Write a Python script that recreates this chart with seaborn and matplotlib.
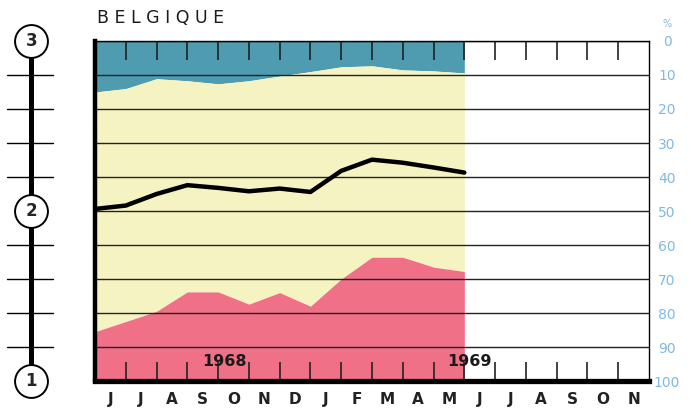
import numpy as np
import pandas as pd
import matplotlib
matplotlib.use("Agg")
import matplotlib.pyplot as plt
import seaborn as sns

# month labels along the bottom (June 1968 -> November 1969)
months = ["J", "J", "A", "S", "O", "N", "D", "J", "F", "M", "A", "M",
          "J", "J", "A", "S", "O", "N"]

# month boundaries with data (June 1968 .. end of May 1969)
pos = list(range(13))
# lower edge of the blue band, % from top
blue_edge = [15.0, 14.0, 11.1, 11.7, 12.6, 11.7, 10.3, 9.0, 7.6, 7.3, 8.5, 8.8, 9.4]
# upper edge of the pink band, % from top
pink_edge = [85.5, 82.5, 79.5, 73.8, 73.8, 77.4, 74.0, 78.0, 70.0, 63.6, 63.6, 66.5, 67.8]
# the black curve
curve = [49.4, 48.4, 45.0, 42.4, 43.2, 44.2, 43.4, 44.4, 38.2, 34.9, 35.8, 37.2, 38.7]

pct_ticks = [0, 10, 20, 30, 40, 50, 60, 70, 80, 90, 100]
scale_marks = [0, 50, 100]
scale_labels = ["3", "2", "1"]

df = pd.DataFrame({"pos": pos, "blue": blue_edge, "pink": pink_edge, "curve": curve})

sns.set_style("white")
plt.rcParams["font.family"] = ["DejaVu Sans"]

BLUE = "#4f9bb0"
YELLOW = "#f6f3c2"
PINK = "#f07088"
LABEL_BLUE = "#7fb9e2"

fig = plt.figure(figsize=(6.91, 4.15), dpi=100)
ax = fig.add_axes([95 / 691, 1 - 381 / 415, (649 - 95) / 691, (381 - 41) / 415])

ax.fill_between(df["pos"], 0, df["blue"], color=BLUE, lw=0)
ax.fill_between(df["pos"], df["blue"], df["pink"], color=YELLOW, lw=0)
ax.fill_between(df["pos"], df["pink"], 100, color=PINK, lw=0)
sns.lineplot(data=df, x="pos", y="curve", ax=ax, color="black", lw=3.2)

ax.set_xlim(0, 18)
ax.set_ylim(100, 0)
ax.set_xlabel("")
ax.set_ylabel("")

# month boundary ticks top and bottom, month names centred between them
ax.set_xticks(range(1, 18))
ax.set_xticks(np.arange(18) + 0.5, minor=True)
ax.set_xticklabels(months, minor=True, fontsize=11, fontweight="bold", color="#222222")
ax.tick_params(axis="x", which="major", direction="in", length=14, width=1.2,
               color="#222222", top=True, bottom=True, labelbottom=False)
ax.tick_params(axis="x", which="minor", length=0, pad=8)

ax.set_yticks(pct_ticks)
ax.set_yticklabels([str(t) for t in pct_ticks])
ax.yaxis.tick_right()
ax.tick_params(axis="y", length=0, pad=13, labelsize=10, labelcolor=LABEL_BLUE)
for lab in ax.get_yticklabels():
    lab.set_horizontalalignment("center")

ax.set_axisbelow("line")
ax.grid(axis="y", color="#222222", lw=1.0)
ax.grid(axis="x", visible=False)

for side, w in [("left", 3.2), ("bottom", 3.8), ("top", 1.0), ("right", 1.0)]:
    ax.spines[side].set_visible(True)
    ax.spines[side].set_color("black")
    ax.spines[side].set_linewidth(w)

ax.text(4.22, 94.2, "1968", fontsize=11.5, fontweight="bold", ha="center", va="center",
        color="#1a1a1a", zorder=5)
ax.text(12.15, 94.2, "1969", fontsize=11.5, fontweight="bold", ha="center", va="center",
        color="#1a1a1a", zorder=5)

# left-hand scale with the three circled markers
sax = fig.add_axes([5 / 691, 1 - 381 / 415, 55 / 691, (381 - 41) / 415])
sax.set_xlim(0, 1)
sax.set_ylim(100, 0)
sax.axis("off")
sax.plot([0.48, 0.48], [0, 100], color="black", lw=3.6, clip_on=False, zorder=1)
for t in pct_ticks[1:-1]:
    if t != 50:
        sax.plot([0.04, 0.87], [t, t], color="black", lw=1.0, clip_on=False, zorder=1)
sns.scatterplot(x=[0.48] * 3, y=scale_marks, ax=sax, s=560, color="white",
                edgecolor="black", linewidth=1.4, zorder=3, clip_on=False, legend=False)
for y, lab in zip(scale_marks, scale_labels):
    sax.text(0.48, y, lab, ha="center", va="center", fontsize=12, fontweight="bold",
             zorder=4)

fig.text(97 / 691, 1 - 18 / 415, "B E L G I Q U E", fontsize=12.5, ha="left",
         va="center", color="#1a1a1a")
fig.text(667 / 691, 1 - 24 / 415, "%", fontsize=7, ha="center", va="center",
         color=LABEL_BLUE)

fig.savefig("out.png", dpi=100, facecolor="white")
